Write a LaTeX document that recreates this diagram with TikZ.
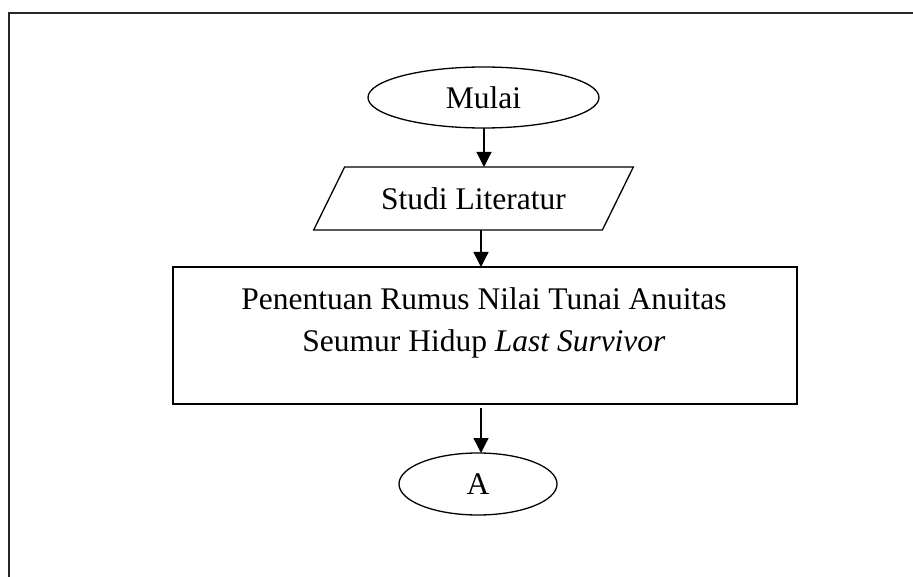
\documentclass[tikz,border=0pt]{standalone}
\usepackage{fontspec}
\setmainfont{Liberation Serif}
\usetikzlibrary{shapes.geometric,arrows.meta}
\begin{document}
\begin{tikzpicture}[x=1pt,y=-1pt,
  every node/.style={font=\fontsize{31.5}{42}\selectfont, inner sep=0pt, outer sep=0pt},
  shape line/.style={draw=black, line width=1.3pt},
  terminal/.style={shape line, ellipse},
  inputbox/.style={shape line, trapezium, trapezium left angle=45, trapezium right angle=135, trapezium stretches=true},
  procbox/.style={shape line, rectangle},
  arr/.style={line width=1.3pt, -{Triangle[length=15pt,width=15pt]}},
  frame/.style={line width=2pt, draw=black!85}]
\useasboundingbox (0,0) rectangle (913,577);
\draw[frame] (913,13) -- (9,13) -- (9,578);
\node[terminal, minimum width=231pt, minimum height=61pt] (mulai) at (483.5,97.5) {Mulai};
\node[inputbox, minimum width=320pt, minimum height=63pt] (studi) at (473.5,198.5) {Studi Literatur};
\node[procbox, minimum width=624pt, minimum height=137pt] (proc) at (485,335.5) {};
\node[align=center] (proctext) at (484,322.7) {Penentuan Rumus Nilai Tunai Anuitas\\Seumur Hidup \textit{Last Survivor}};
\node[terminal, minimum width=158pt, minimum height=62pt] (akhir) at (478,484) {A};
\coordinate (a1) at (484,128);
\coordinate (a2) at (481,230);
\coordinate (a3) at (481,408);
\draw[arr] (a1) -- (a1 |- studi.north);
\draw[arr] (a2) -- (a2 |- proc.north);
\draw[arr] (a3) -- (a3 |- akhir.north);
\end{tikzpicture}
\end{document}
